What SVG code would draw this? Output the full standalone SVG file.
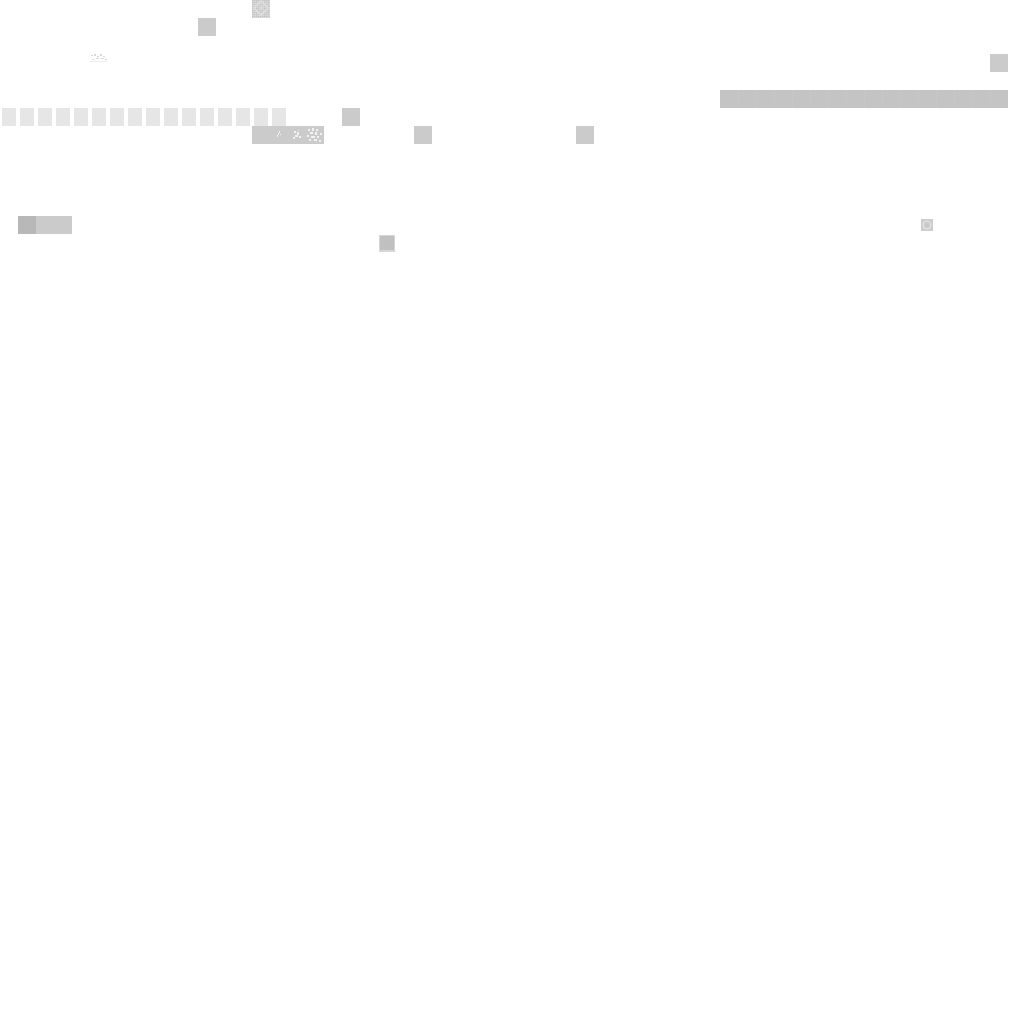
<svg xmlns="http://www.w3.org/2000/svg" width="1024" height="1024" viewBox="0 0 1024 1024">
<style>
.g{fill:#cbcbcb}
.l{fill:#e6e6e6}
.w{fill:#f2f2f2}
</style>
<defs>
<pattern id="noise" width="2" height="2" patternUnits="userSpaceOnUse">
<rect width="2" height="2" fill="#d0d0d0"/>
<rect width="1" height="1" fill="#c4c4c4"/>
<rect x="1" y="1" width="1" height="1" fill="#dcdcdc"/>
</pattern>
</defs>
<rect width="1024" height="1024" fill="#ffffff"/>
<!-- patterned square top -->
<rect x="252" y="0" width="18" height="18" fill="url(#noise)"/>
<rect x="256" y="3" width="10" height="10" fill="none" stroke="#e2e2e2" stroke-width="1.2" transform="rotate(45 261 8)"/>
<circle cx="261" cy="8" r="2" fill="#dadada"/>
<rect class="g" x="198" y="18" width="18" height="18"/>
<!-- faint speckle -->
<g fill="#d8d8d8">
<rect x="91" y="55" width="2" height="1"/><rect x="94" y="54" width="2" height="2"/><rect x="97" y="56" width="2" height="1"/>
<rect x="100" y="54" width="2" height="2"/><rect x="103" y="56" width="2" height="1"/><rect x="96" y="58" width="3" height="1"/>
<rect x="101" y="58" width="3" height="1"/><rect x="92" y="59" width="2" height="1"/><rect x="105" y="59" width="2" height="1"/>
</g>
<g fill="#eeeeee"><rect x="90" y="61" width="18" height="1"/></g>
<rect class="g" x="990" y="54" width="18" height="18"/>
<!-- long bar -->
<rect x="720" y="90" width="288" height="18" fill="#c4c4c4"/>
<g fill="#c7c7c7">
<rect x="738" y="90" width="1" height="18"/><rect x="756" y="90" width="1" height="18"/><rect x="774" y="90" width="1" height="18"/>
<rect x="792" y="90" width="1" height="18"/><rect x="810" y="90" width="1" height="18"/><rect x="828" y="90" width="1" height="18"/>
<rect x="846" y="90" width="1" height="18"/><rect x="864" y="90" width="1" height="18"/><rect x="882" y="90" width="1" height="18"/>
<rect x="900" y="90" width="1" height="18"/><rect x="918" y="90" width="1" height="18"/><rect x="936" y="90" width="1" height="18"/>
<rect x="954" y="90" width="1" height="18"/><rect x="972" y="90" width="1" height="18"/><rect x="990" y="90" width="1" height="18"/>
</g>
<!-- row of light squares -->
<g class="l">
<rect x="2" y="108" width="14" height="18"/><rect x="20" y="108" width="14" height="18"/><rect x="38" y="108" width="14" height="18"/>
<rect x="56" y="108" width="14" height="18"/><rect x="74" y="108" width="14" height="18"/><rect x="92" y="108" width="14" height="18"/>
<rect x="110" y="108" width="14" height="18"/><rect x="128" y="108" width="14" height="18"/><rect x="146" y="108" width="14" height="18"/>
<rect x="164" y="108" width="14" height="18"/><rect x="182" y="108" width="14" height="18"/><rect x="200" y="108" width="14" height="18"/>
<rect x="218" y="108" width="14" height="18"/><rect x="236" y="108" width="14" height="18"/><rect x="254" y="108" width="14" height="18"/>
<rect x="272" y="108" width="14" height="18"/>
</g>
<rect class="g" x="342" y="108" width="18" height="18"/>
<!-- bar with speckles -->
<rect class="g" x="252" y="126" width="72" height="18"/>
<g class="w">
<rect x="279" y="131" width="1" height="2"/><rect x="278" y="133" width="1" height="2"/><rect x="277" y="135" width="1" height="2"/><rect x="280" y="134" width="1" height="1"/>
<rect x="294" y="131" width="2" height="2"/><rect x="297" y="132" width="2" height="3"/><rect x="295" y="135" width="3" height="2"/><rect x="299" y="136" width="2" height="2"/><rect x="293" y="137" width="2" height="2"/><rect x="298" y="130" width="1" height="1"/>
<rect x="308" y="129" width="2" height="2"/><rect x="312" y="128" width="2" height="3"/><rect x="316" y="129" width="2" height="2"/><rect x="310" y="132" width="3" height="2"/><rect x="315" y="132" width="2" height="3"/>
<rect x="307" y="135" width="2" height="2"/><rect x="311" y="136" width="4" height="2"/><rect x="317" y="136" width="2" height="2"/><rect x="309" y="139" width="2" height="2"/><rect x="314" y="139" width="3" height="2"/><rect x="320" y="133" width="2" height="2"/><rect x="319" y="140" width="2" height="2"/>
</g>
<rect class="g" x="414" y="126" width="18" height="18"/>
<rect class="g" x="576" y="126" width="18" height="18"/>
<!-- left pair -->
<rect x="18" y="216" width="18" height="18" fill="#b8b8b8"/>
<rect x="36" y="216" width="36" height="18" fill="#cbcbcb"/>
<!-- small icon right -->
<rect x="921" y="219" width="12" height="12" fill="#cdcdcd"/>
<circle cx="927" cy="225" r="3.8" fill="none" stroke="#e2e2e2" stroke-width="1.3"/>
<circle cx="927" cy="225" r="1.5" fill="#c6c6c6"/>
<!-- small square bottom -->
<rect x="379" y="235" width="16" height="17" fill="#d6d6d6"/>
<rect x="380" y="236" width="14" height="14" fill="#c0c0c0"/>
</svg>
